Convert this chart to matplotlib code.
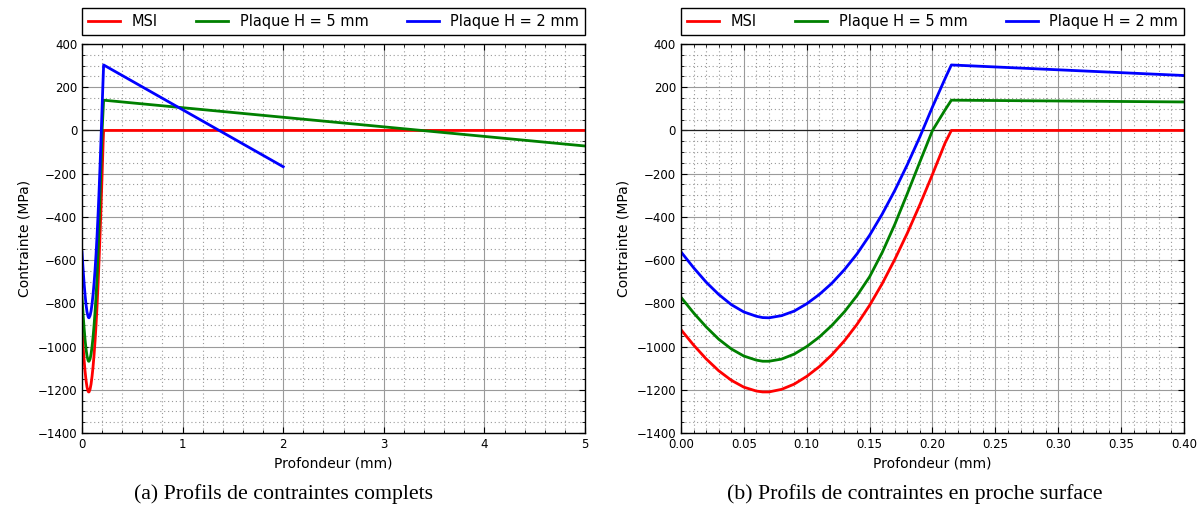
"""Profils de contraintes : MSI et plaques (profil complet + zoom proche surface)."""

import matplotlib

matplotlib.use("Agg")
import matplotlib.pyplot as plt
from matplotlib.ticker import MultipleLocator

# profondeur (mm) en proche surface, commune aux trois profils
DEPTH_NEAR = [0.0, 0.01, 0.02, 0.03, 0.04, 0.05, 0.06, 0.065, 0.07, 0.08, 0.09, 0.10,
              0.11, 0.12, 0.13, 0.14, 0.15, 0.16, 0.17, 0.18, 0.19, 0.20, 0.21, 0.215]

MSI_NEAR = [-922, -993, -1057, -1112, -1156, -1188, -1206, -1210, -1210, -1198, -1174, -1138,
            -1093, -1038, -973, -897, -809, -709, -597, -475, -343, -203, -58, 0]
PLAQUE5_NEAR = [-772, -844, -909, -966, -1011, -1044, -1063, -1068, -1068, -1058, -1035, -1000,
                -956, -902, -839, -764, -677, -565, -435, -292, -145, 0, 95, 140]
PLAQUE2_NEAR = [-562, -635, -702, -759, -806, -840, -860, -866, -867, -857, -836, -802,
                -759, -707, -644, -571, -485, -387, -278, -158, -29, 109, 240, 303]

# fin des profils (partie lineaire en profondeur)
MSI_TAIL_DEPTH = [5.0]
MSI_TAIL = [0]
PLAQUE5_TAIL_DEPTH = [5.0]
PLAQUE5_TAIL = [-72]
PLAQUE2_TAIL_DEPTH = [2.0]
PLAQUE2_TAIL = [-168]

SERIES = [
    ("MSI", MSI_NEAR, MSI_TAIL_DEPTH, MSI_TAIL, "#ff0000"),
    ("Plaque H = 5 mm", PLAQUE5_NEAR, PLAQUE5_TAIL_DEPTH, PLAQUE5_TAIL, "#008000"),
    ("Plaque H = 2 mm", PLAQUE2_NEAR, PLAQUE2_TAIL_DEPTH, PLAQUE2_TAIL, "#0000ff"),
]

CAPTIONS = ["(a) Profils de contraintes complets", "(b) Profils de contraintes en proche surface"]
CAPTION_X = [0.2355, 0.760]


def style_axes(ax, xmax, xmajor, xminor, fmt) -> None:
    ax.set_xlim(0, xmax)
    ax.set_ylim(-1400, 400)
    ax.xaxis.set_major_locator(MultipleLocator(xmajor))
    ax.xaxis.set_minor_locator(MultipleLocator(xminor))
    ax.yaxis.set_major_locator(MultipleLocator(200))
    ax.yaxis.set_minor_locator(MultipleLocator(50))
    ax.xaxis.set_major_formatter(fmt)
    ax.grid(which="major", color="#9a9a9a", linewidth=0.8, linestyle="-")
    ax.grid(which="minor", color="#999999", linewidth=0.8, linestyle=(0, (1, 2.5)))
    ax.set_axisbelow(True)
    ax.tick_params(which="both", direction="in", top=True, right=True, labelsize=8.5)
    ax.tick_params(which="major", length=4)
    ax.tick_params(which="minor", length=2)
    for spine in ax.spines.values():
        spine.set_linewidth(1.0)
        spine.set_color("black")
    ax.set_xlabel("Profondeur (mm)", fontsize=10)
    ax.set_ylabel("Contrainte (MPa)", fontsize=10)


def main() -> None:
    plt.rcParams["font.family"] = ["DejaVu Sans"]
    fig = plt.figure(figsize=(12.04, 5.17), dpi=100)
    ax_full = fig.add_axes([0.0681, 0.1625, 0.4178, 0.7524])
    ax_near = fig.add_axes([0.5656, 0.1625, 0.4178, 0.7524])

    for ax in (ax_full, ax_near):
        ax.axhline(0, color="#222222", linewidth=0.9, zorder=1.5)
        for label, near, tail_d, tail_v, color in SERIES:
            ax.plot(DEPTH_NEAR + tail_d, near + tail_v, color=color, linewidth=2.0, label=label)
        ax.legend(loc="lower left", bbox_to_anchor=(0, 1.023, 1, 0.064), mode="expand",
                  borderaxespad=0, ncol=3, fontsize=10.5, fancybox=False, edgecolor="black",
                  framealpha=1, handlelength=2.2)
        ax.get_legend().get_frame().set_linewidth(1.0)

    style_axes(ax_full, 5, 1, 0.2, "{x:.0f}")
    style_axes(ax_near, 0.4, 0.05, 0.01, "{x:.2f}")

    for x, caption in zip(CAPTION_X, CAPTIONS):
        fig.text(x, 0.045, caption, ha="center", va="center",
                 fontsize=15.7, family=["Liberation Serif", "DejaVu Serif"])

    fig.savefig("out.png", dpi=100, facecolor="white")
    plt.close(fig)


if __name__ == "__main__":
    main()
